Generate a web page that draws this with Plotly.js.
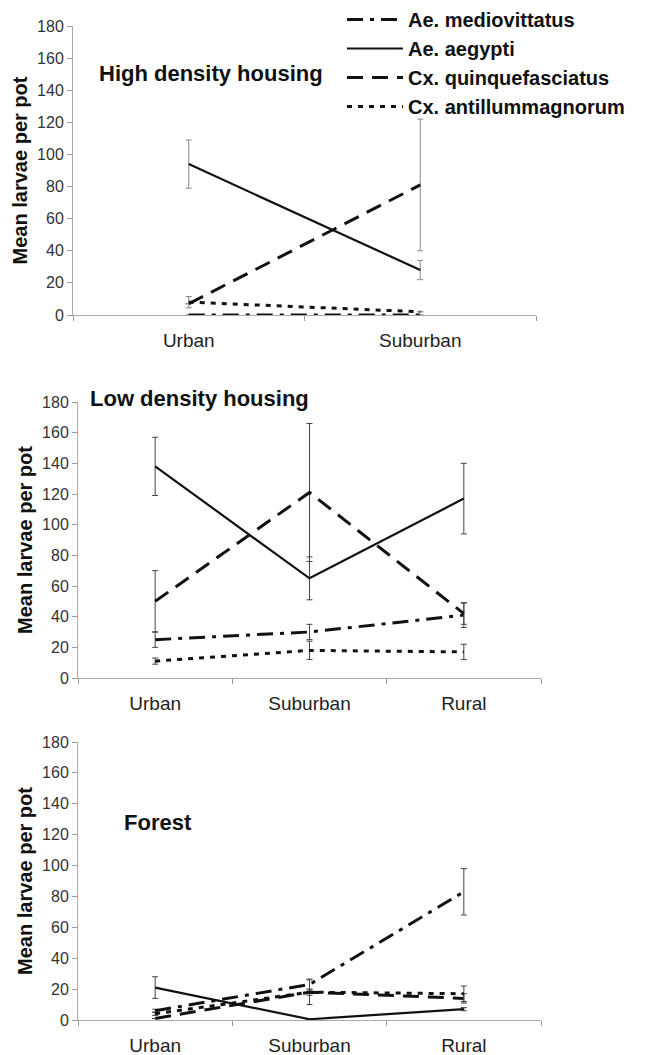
<!DOCTYPE html>
<html>
<head>
<meta charset="utf-8">
<script src="https://cdn.plot.ly/plotly-3.0.1.min.js"></script>
<style>html,body{margin:0;padding:0;background:#fff;}#chart{width:672px;height:1055px;}</style>
</head>
<body>
<div id="chart"></div>
<script>
// ---- data ----
const species = ['Ae. mediovittatus', 'Ae. aegypti', 'Cx. quinquefasciatus', 'Cx. antillummagnorum'];
const catsHigh = ['Urban', 'Suburban'];
const catsLow = ['Urban', 'Suburban', 'Rural'];
const catsForest = ['Urban', 'Suburban', 'Rural'];

// High density housing
const highMedio = [0, 0];
const highMedioErr = [0, 0];
const highAegypti = [94, 28];
const highAegyptiErr = [15, 6];
const highQuinque = [7, 81];
const highQuinqueErr = [0, 41];
const highAntill = [8, 2];
const highAntillErr = [3.5, 0];

// Low density housing
const lowMedio = [25, 30, 41];
const lowMedioErr = [5, 5, 8];
const lowAegypti = [138, 65, 117];
const lowAegyptiErr = [19, 14, 23];
const lowQuinque = [50, 121, 42];
const lowQuinqueErr = [20, 45, 7];
const lowAntill = [11, 18, 17];
const lowAntillErr = [2, 6, 5];

// Forest
const forMedio = [6, 23, 83];
const forMedioErr = [1, 3.5, 15];
const forAegypti = [21, 0.5, 7];
const forAegyptiErr = [7, 0, 1];
const forQuinque = [1, 18, 14];
const forQuinqueErr = [0, 8, 3];
const forAntill = [4, 18, 17];
const forAntillErr = [1, 2, 5];

const panelTitles = ['High density housing', 'Low density housing', 'Forest'];
const yTitle = 'Mean larvae per pot';

// ---- styles ----
const FONT = 'Liberation Sans, Arial, sans-serif';
const styles = [
  {dash: '16px,7px,4px,7px', width: 3},
  {dash: 'solid', width: 2.2},
  {dash: '16px,9px', width: 3},
  {dash: '5px,6px', width: 3}
];

function mk(x, y, err, i, xa, ya, errColor, showlegend) {
  return {
    type: 'scatter', mode: 'lines', x: x, y: y,
    xaxis: xa, yaxis: ya,
    name: species[i], legendgroup: 'g' + i, showlegend: showlegend,
    line: {color: '#111', width: styles[i].width, dash: styles[i].dash},
    error_y: {type: 'data', array: err, visible: true, color: errColor, thickness: 1, width: 3},
    hoverinfo: 'skip'
  };
}

const data = [
  mk(catsHigh, highMedio, highMedioErr, 0, 'x', 'y', '#888', true),
  mk(catsHigh, highAegypti, highAegyptiErr, 1, 'x', 'y', '#888', true),
  mk(catsHigh, highQuinque, highQuinqueErr, 2, 'x', 'y', '#888', true),
  mk(catsHigh, highAntill, highAntillErr, 3, 'x', 'y', '#888', true),
  mk(catsLow, lowMedio, lowMedioErr, 0, 'x2', 'y2', '#444', false),
  mk(catsLow, lowAegypti, lowAegyptiErr, 1, 'x2', 'y2', '#444', false),
  mk(catsLow, lowQuinque, lowQuinqueErr, 2, 'x2', 'y2', '#444', false),
  mk(catsLow, lowAntill, lowAntillErr, 3, 'x2', 'y2', '#444', false),
  mk(catsForest, forMedio, forMedioErr, 0, 'x3', 'y3', '#444', false),
  mk(catsForest, forAegypti, forAegyptiErr, 1, 'x3', 'y3', '#444', false),
  mk(catsForest, forQuinque, forQuinqueErr, 2, 'x3', 'y3', '#444', false),
  mk(catsForest, forAntill, forAntillErr, 3, 'x3', 'y3', '#444', false)
];

const W = 672, H = 1055;
function xax(l, r, anchor, n) {
  return {
    domain: [l / W, r / W], anchor: anchor, type: 'category', tickson: 'boundaries',
    range: [-0.5, n - 0.5],
    ticks: 'outside', ticklen: 5, tickcolor: '#999', showline: true, linecolor: '#aaa', linewidth: 1,
    showgrid: false, zeroline: false, fixedrange: true, ticklabelstandoff: 8,
    tickfont: {family: FONT, size: 19, color: '#222'}
  };
}
function yax(top, bottom, anchor) {
  return {
    domain: [1 - bottom / H, 1 - top / H], anchor: anchor, range: [0, 180], dtick: 20,
    ticks: 'outside', ticklen: 5, tickcolor: '#999', showline: true, linecolor: '#aaa', linewidth: 1,
    showgrid: false, zeroline: false, fixedrange: true,
    tickfont: {family: FONT, size: 16, color: '#333'},
    title: {text: yTitle, font: {family: FONT, size: 20, weight: 'bold', color: '#111'}, standoff: 4}
  };
}

const layout = {
  width: W, height: H,
  margin: {l: 0, r: 0, t: 0, b: 0},
  paper_bgcolor: '#fff', plot_bgcolor: '#fff',
  showlegend: true,
  legend: {
    x: 342 / W, y: 1, xanchor: 'left', yanchor: 'top',
    traceorder: 'grouped', tracegroupgap: 0,
    font: {family: FONT, size: 20, weight: 'bold', color: '#111'},
    bgcolor: 'rgba(0,0,0,0)', itemwidth: 56
  },
  xaxis: xax(73, 536, 'y', 2),
  yaxis: yax(26, 315, 'x'),
  xaxis2: xax(78, 541, 'y2', 3),
  yaxis2: yax(402, 678, 'x2'),
  xaxis3: xax(78, 541, 'y3', 3),
  yaxis3: yax(742, 1020, 'x3'),
  annotations: [
    {text: panelTitles[0], xref: 'paper', yref: 'paper', x: 97 / W, y: 1 - 73 / H, xanchor: 'left', yanchor: 'middle', showarrow: false,
     font: {family: FONT, size: 22, weight: 'bold', color: '#111'}},
    {text: panelTitles[1], xref: 'paper', yref: 'paper', x: 88 / W, y: 1 - 398 / H, xanchor: 'left', yanchor: 'middle', showarrow: false,
     font: {family: FONT, size: 22, weight: 'bold', color: '#111'}},
    {text: panelTitles[2], xref: 'paper', yref: 'paper', x: 122 / W, y: 1 - 822 / H, xanchor: 'left', yanchor: 'middle', showarrow: false,
     font: {family: FONT, size: 22, weight: 'bold', color: '#111'}}
  ]
};

Plotly.newPlot('chart', data, layout, {displayModeBar: false, staticPlot: true});
</script>
</body>
</html>
